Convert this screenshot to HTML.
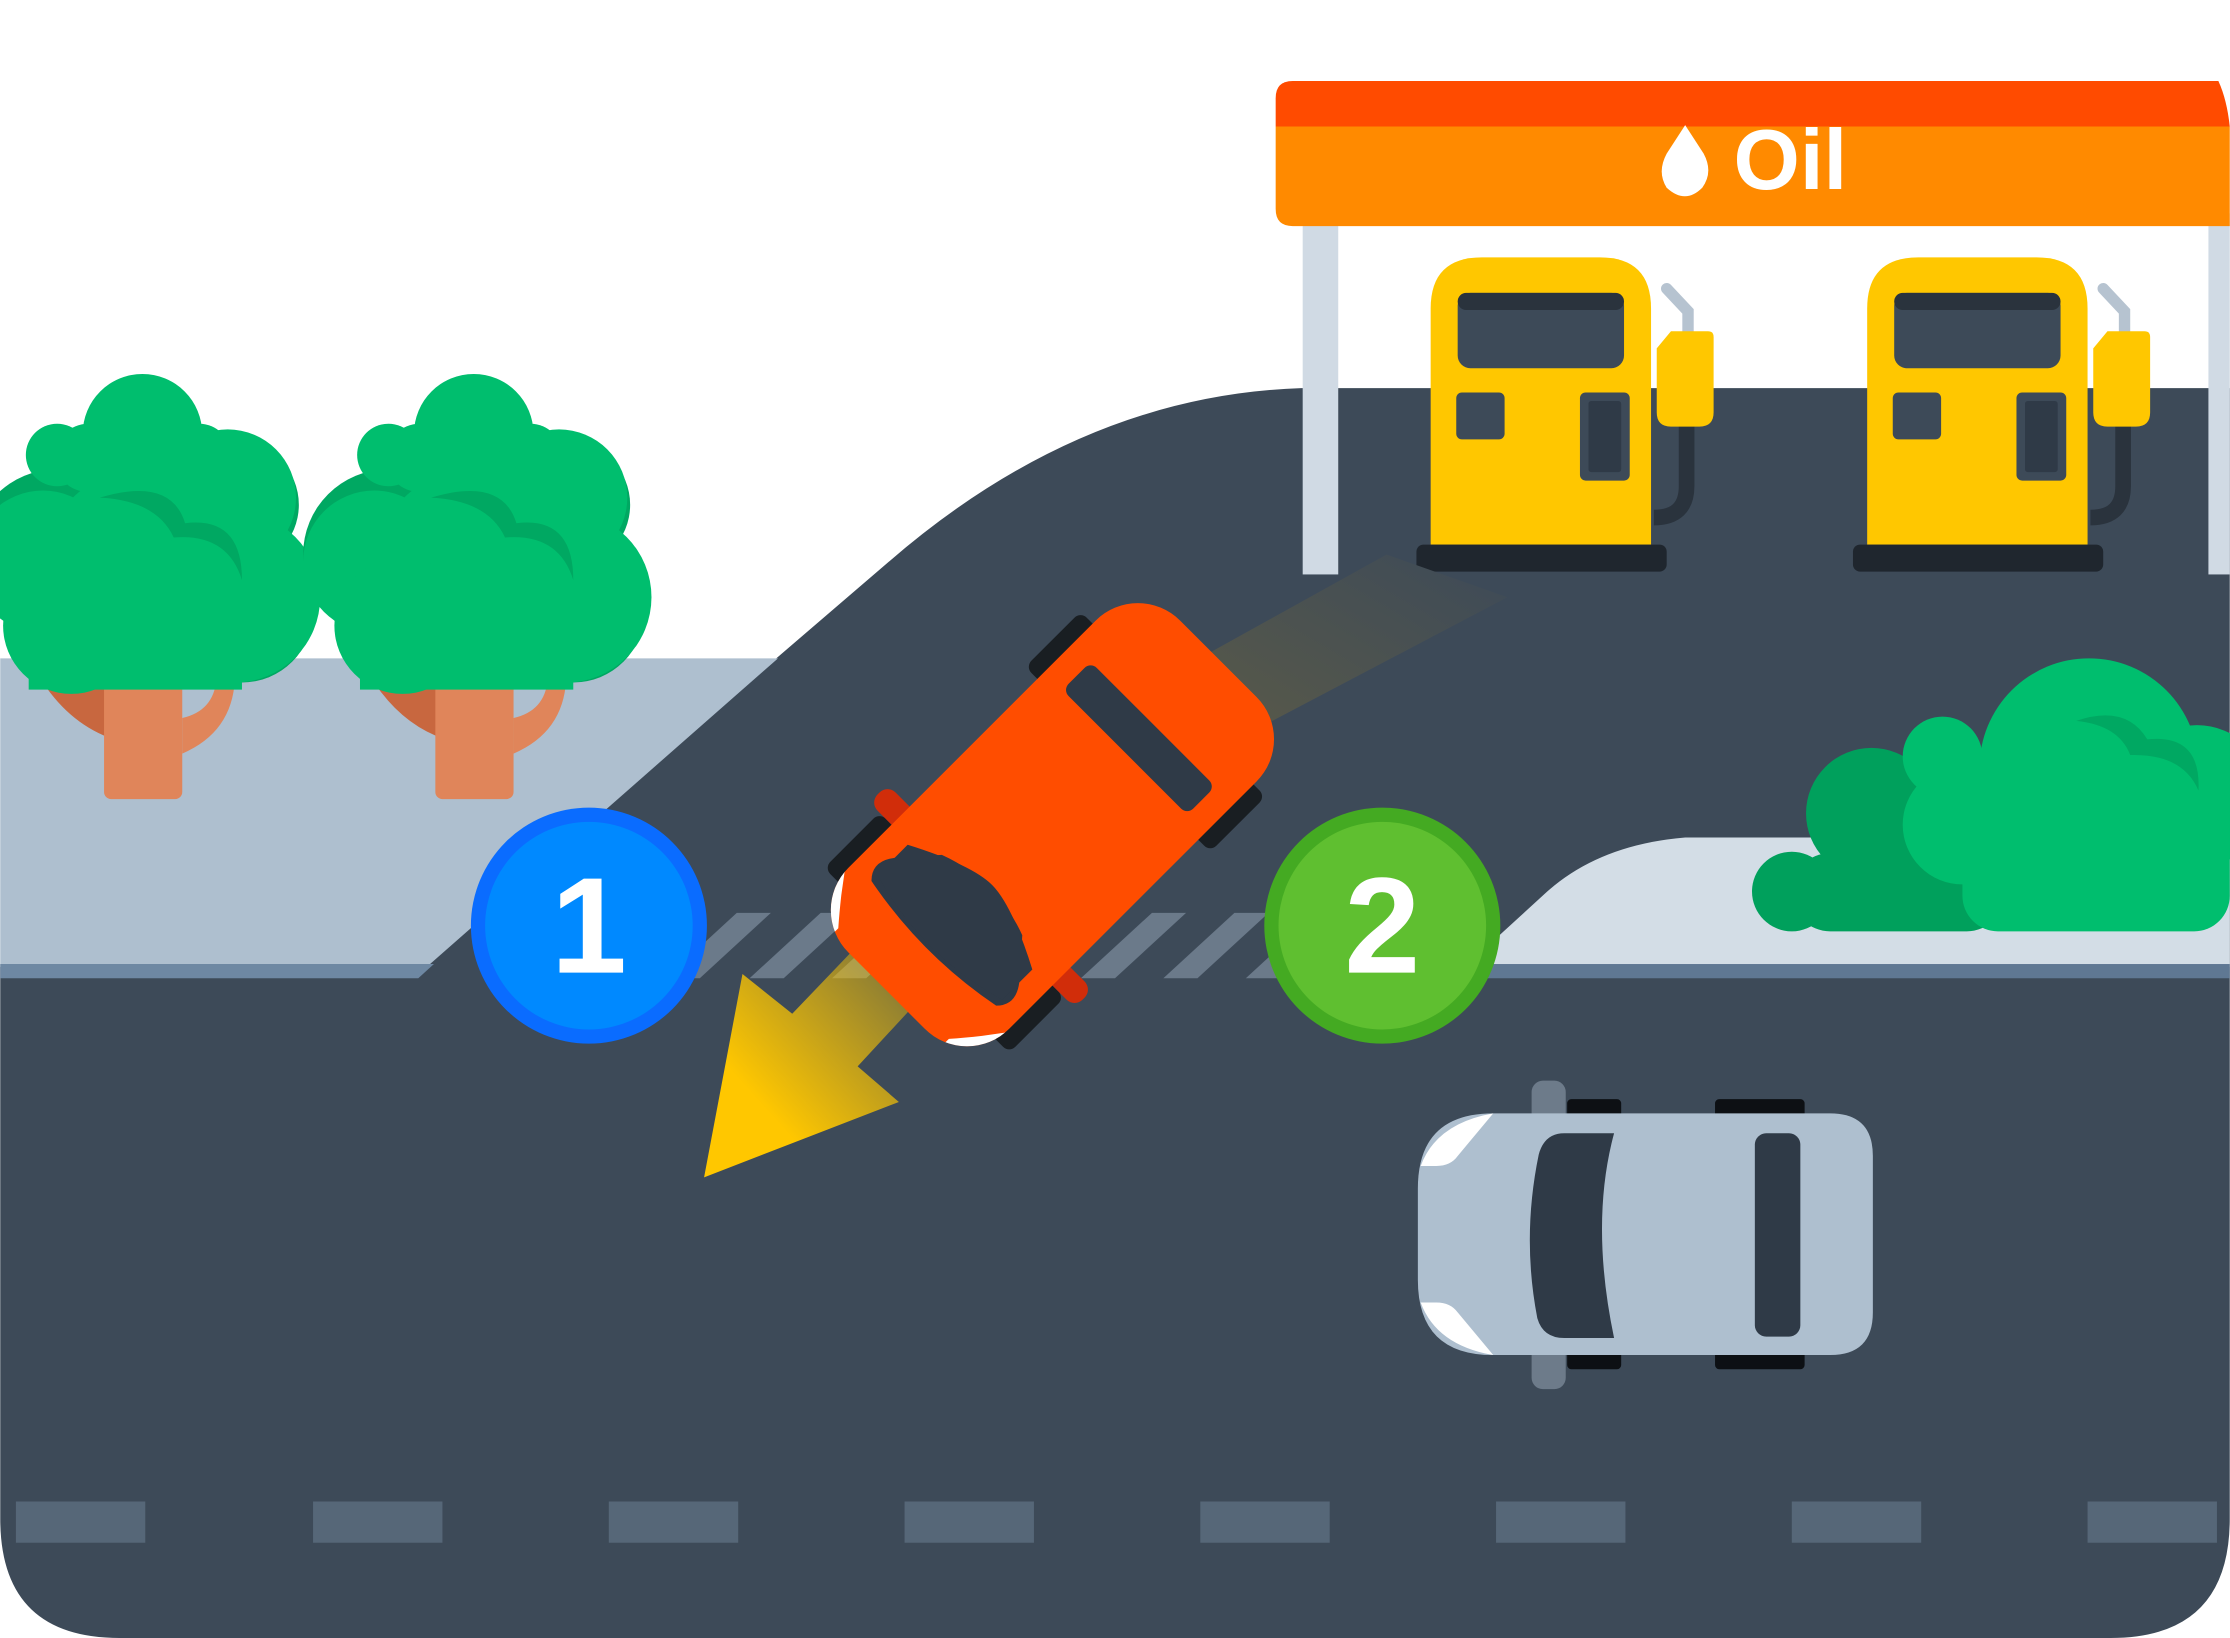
<!DOCTYPE html>
<html><head><meta charset="utf-8"><style>html,body{margin:0;padding:0;background:#fff}svg{display:block}</style></head>
<body>
<svg width="2230" height="1638" viewBox="0 0 1568 1152" xmlns="http://www.w3.org/2000/svg" font-family="Liberation Sans, sans-serif">
<defs>
<linearGradient id="ag" x1="0" y1="1" x2="1" y2="0"><stop offset="0.3" stop-color="#ffc700"/><stop offset="1" stop-color="#ffc700" stop-opacity="0.3"/></linearGradient>
<linearGradient id="bg" x1="0" y1="1" x2="1" y2="0"><stop offset="0" stop-color="#5a5a48"/><stop offset="1" stop-color="#3d4a58"/></linearGradient>
<clipPath id="carclip"><rect x="-165" y="-80" width="330" height="160" rx="42"/></clipPath>
<g id="tree">
 <path d="M30,480 Q50,510 80,520 L80,480Z" fill="#c8673f"/>
 <rect x="73" y="470" width="55" height="92" rx="5" fill="#e0855a"/>
 <path d="M128,505 Q150,500 152,478 L165,478 Q163,515 128,530Z" fill="#e0855a"/>
 <g fill="#00a862">
  <circle cx="40" cy="390" r="60"/><circle cx="165" cy="355" r="45"/><circle cx="170" cy="430" r="50"/>
 </g>
 <g fill="#00be6e">
  <circle cx="100" cy="305" r="42"/><circle cx="62" cy="322" r="24"/><circle cx="140" cy="320" r="22"/>
  <circle cx="40" cy="320" r="22"/><circle cx="160" cy="350" r="48"/><circle cx="30" cy="395" r="50"/>
  <circle cx="100" cy="400" r="70"/><circle cx="165" cy="420" r="60"/><circle cx="50" cy="440" r="48"/>
  <rect x="20" y="440" width="150" height="45"/>
 </g>
 <path d="M70,350 Q120,335 130,368 Q170,363 170,408 Q160,375 122,378 Q110,352 70,350Z" fill="#00a862"/>
</g>
<g id="pump">
 <path d="M1172,203 L1187,219 L1187,236" stroke="#b6c3d0" stroke-width="8" fill="none" stroke-linecap="round"/>
 <path d="M1186,298 L1186,342 Q1186,364 1163,364" stroke="#2a333d" stroke-width="11" fill="none"/>
 <path d="M1006,383 L1006,217 Q1006,181 1042,181 L1125,181 Q1161,181 1161,217 L1161,383Z" fill="#ffc700"/>
 <rect x="1025" y="206" width="117" height="53" rx="9" fill="#3d4a58"/>
 <rect x="1025" y="206" width="117" height="12" rx="6" fill="#2a333d"/>
 <rect x="1024" y="276" width="34" height="33" rx="4" fill="#3d4a58"/>
 <rect x="1111" y="276" width="35" height="62" rx="4" fill="#3d4a58"/>
 <rect x="1117" y="282" width="23" height="50" rx="2" fill="#2f3a47"/>
 <path d="M1165,245 L1175,233 L1201,233 Q1205,233 1205,237 L1205,290 Q1205,300 1195,300 L1175,300 Q1165,300 1165,290Z" fill="#ffc700"/>
 <rect x="996" y="383" width="176" height="19" rx="5" fill="#1f262e"/>
</g>
</defs>

<!-- road -->
<path d="M0,680 L293,680 L625,395 Q760,278 915,273 L1568,273 L1568,1068 Q1568,1152 1484,1152 L84,1152 Q0,1152 0,1068Z" fill="#3d4a58"/>
<!-- left sidewalk -->
<path d="M0,463 L547,463 L300,680 L0,680Z" fill="#aebfcf"/>
<path d="M0,678 L305,678 L294,688 L0,688Z" fill="#6e88a3"/>
<!-- right sidewalk -->
<path d="M1030,680 L1088,627 Q1125,594 1185,589 L1568,589 L1568,680Z" fill="#d3dde6"/>
<rect x="1030" y="678" width="538" height="10" fill="#5f7893"/>
<!-- crosswalk -->
<g fill="#6b7a8a">
 <path d="M468,688 L518,642 L542,642 L492,688Z"/>
 <path d="M527,688 L577,642 L601,642 L551,688Z"/>
 <path d="M585,688 L635,642 L659,642 L609,688Z"/>
 <path d="M643,688 L693,642 L717,642 L667,688Z"/>
 <path d="M701,688 L751,642 L775,642 L725,688Z"/>
 <path d="M760,688 L810,642 L834,642 L784,688Z"/>
 <path d="M818,688 L868,642 L892,642 L842,688Z"/>
 <path d="M876,688 L926,642 L950,642 L900,688Z"/>
</g>
<!-- dashes -->
<g fill="#566778">
 <rect x="11" y="1056" width="91" height="29"/><rect x="220" y="1056" width="91" height="29"/>
 <rect x="428" y="1056" width="91" height="29"/><rect x="636" y="1056" width="91" height="29"/>
 <rect x="844" y="1056" width="91" height="29"/><rect x="1052" y="1056" width="91" height="29"/>
 <rect x="1260" y="1056" width="91" height="29"/><rect x="1468" y="1056" width="91" height="29"/>
</g>
<!-- gas station -->
<rect x="916" y="150" width="25" height="254" fill="#d0dae4"/>
<rect x="1553" y="150" width="15" height="254" fill="#d0dae4"/>
<path d="M897,89 L897,69 Q897,57 909,57 L1560,57 Q1566,70 1568,89Z" fill="#ff4b00"/>
<path d="M897,89 L1568,89 L1568,159 L909,159 Q897,159 897,147Z" fill="#ff8a00"/>
<path d="M1185,88 L1198,108 Q1205,121 1197,132 Q1185,144 1172,132 Q1165,121 1172,108Z" fill="#fff"/>
<text x="1219" y="133" font-size="60" font-weight="bold" fill="#fff">Oil</text>
<use href="#pump"/>
<use href="#pump" transform="translate(307,0)"/>
<!-- trees -->
<use href="#tree"/>
<use href="#tree" transform="translate(233,0)"/>
<!-- bush -->
<g fill="#00a05c">
 <circle cx="1316" cy="572" r="46"/><circle cx="1260" cy="627" r="28"/><rect x="1260" y="600" width="150" height="55" rx="27"/>
</g>
<g fill="#00be6e">
 <circle cx="1366" cy="532" r="28"/><circle cx="1469" cy="540" r="77"/><circle cx="1380" cy="580" r="42"/>
 <circle cx="1545" cy="560" r="50"/><rect x="1380" y="570" width="188" height="85" rx="25"/>
</g>
<path d="M1460,507 Q1495,495 1510,520 Q1548,516 1546,556 Q1535,530 1498,531 Q1490,510 1460,507Z" fill="#00a862"/>
<!-- beam -->
<path d="M838,466 L975,390 L1060,420 L870,520Z" fill="url(#bg)"/>
<!-- arrow -->
<path d="M522,685 L557,713 L600,668 L640,710 L603,750 L632,775 L495,828Z" fill="url(#ag)"/>
<!-- orange car -->
<g transform="translate(740,580) rotate(-45)">
 <rect x="-135" y="-92" width="55" height="184" rx="6" fill="#191e22"/>
 <rect x="65" y="-92" width="55" height="184" rx="6" fill="#191e22"/>
 <rect x="-80" y="-102" width="18" height="30" rx="8" fill="#d12d0a"/>
 <rect x="-80" y="72" width="18" height="30" rx="8" fill="#d12d0a"/>
 <rect x="-165" y="-80" width="330" height="160" rx="42" fill="#ff4d00"/>
 <g clip-path="url(#carclip)" fill="#fff">
  <path d="M-170,-85 L-120,-85 L-140,-70 Q-150,-62 -158,-55 L-170,-55Z"/>
  <path d="M-170,85 L-120,85 L-140,70 Q-150,62 -158,55 L-170,55Z"/>
 </g>
 <path d="M-118,-62 Q-108,-72 -95,-62 L-70,-40 Q-55,0 -70,40 L-95,62 Q-108,72 -118,62 Q-130,0 -118,-62Z" fill="#2f3a47"/>
 <path d="M-75,-55 L-75,55 Q-40,35 -30,0 Q-40,-35 -75,-55Z" fill="#2f3a47" opacity="0"/>
 <path d="M-112,-62 L-82,-62 Q-60,-20 -60,0 Q-60,20 -82,62 L-112,62 Q-130,0 -112,-62Z" fill="#2f3a47"/>
 <rect x="72" y="-62" width="28" height="124" rx="6" fill="#2f3a47"/>
</g>
<!-- gray car -->
<rect x="1077" y="760" width="24" height="217" rx="8" fill="#6d7b8a"/>
<rect x="1102" y="773" width="38" height="190" rx="3" fill="#0d1014"/>
<rect x="1206" y="773" width="63" height="190" rx="3" fill="#0d1014"/>
<path d="M1050,783 L1287,783 Q1317,783 1317,813 L1317,923 Q1317,953 1287,953 L1050,953 Q997,953 997,900 L997,836 Q997,783 1050,783Z" fill="#aebfcf"/>
<path d="M1050,783 L1025,813 Q1020,820 1010,820 L999,820 Q1010,790 1050,783Z" fill="#fff"/>
<path d="M1050,953 L1025,923 Q1020,916 1010,916 L999,916 Q1010,946 1050,953Z" fill="#fff"/>
<path d="M1100,797 L1135,797 Q1118,860 1135,941 L1100,941 Q1085,941 1081,927 Q1070,870 1082,812 Q1086,797 1100,797Z" fill="#2f3a47"/>
<rect x="1234" y="797" width="32" height="143" rx="8" fill="#2f3a47"/>
<!-- circles -->
<circle cx="414" cy="651" r="83" fill="#0a6cff"/>
<circle cx="414" cy="651" r="73" fill="#0089ff"/>
<text x="414" y="684" font-size="96" font-weight="bold" fill="#fff" text-anchor="middle">1</text>
<circle cx="972" cy="651" r="83" fill="#44aa22"/>
<circle cx="972" cy="651" r="73" fill="#5fbf30"/>
<text x="972" y="684" font-size="96" font-weight="bold" fill="#fff" text-anchor="middle">2</text>
</svg>
</body></html>
